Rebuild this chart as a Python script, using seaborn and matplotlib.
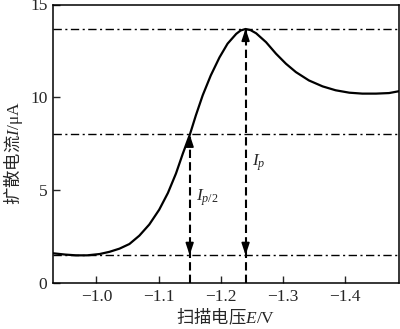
import matplotlib
matplotlib.use("Agg")
import matplotlib.pyplot as plt
import seaborn as sns
import pandas as pd

# Data
E = [-0.930, -0.950, -0.967, -0.985, -1.005, -1.021, -1.037, -1.053, -1.069,
     -1.085, -1.101, -1.115, -1.128, -1.139, -1.150, -1.160, -1.171, -1.184,
     -1.198, -1.211, -1.225, -1.232, -1.240, -1.248, -1.257, -1.273, -1.289,
     -1.305, -1.321, -1.342, -1.364, -1.385, -1.407, -1.428, -1.450, -1.471,
     -1.487]
I = [1.60, 1.53, 1.49, 1.49, 1.56, 1.68, 1.85, 2.10, 2.55,
     3.15, 3.95, 4.85, 5.90, 6.97, 7.96, 9.03, 10.11, 11.18,
     12.15, 12.89, 13.42, 13.60, 13.68, 13.62, 13.45, 12.97, 12.35,
     11.81, 11.36, 10.91, 10.59, 10.38, 10.25, 10.20, 10.20, 10.23,
     10.33]
ref_levels = [13.7, 8.0, 1.5]          # Ip, Ip/2, baseline
E_peak = -1.24
E_half = -1.15
xticks = [-1.0, -1.1, -1.2, -1.3, -1.4]
yticks = [0, 5, 10, 15]

df = pd.DataFrame({"E": E, "I": I})

sns.set_style("ticks")
plt.rcParams["font.family"] = ["Liberation Serif", "DejaVu Serif"]
plt.rcParams["mathtext.fontset"] = "custom"
plt.rcParams["mathtext.rm"] = "Liberation Serif"
plt.rcParams["mathtext.it"] = "Liberation Serif:italic"

fig = plt.figure(figsize=(4.0, 3.29), dpi=100)
ax = fig.add_axes([53/400, 46/329, 346/400, 278.5/329])

sns.lineplot(data=df, x="E", y="I", ax=ax, color="black", linewidth=1.6,
             sort=False, estimator=None)

for lv in ref_levels:
    ax.axhline(lv, color="black", linewidth=1.0, dashes=(6, 2.5, 1.5, 2.5), zorder=1)

# vertical dashed lines with arrowheads
for xv, top in [(E_half, ref_levels[1]), (E_peak, ref_levels[0])]:
    ax.plot([xv, xv], [0, top], color="black", linewidth=1.5,
            linestyle=(0, (4, 2)), zorder=2)
    ax.annotate("", xy=(xv, top), xytext=(0, -8), textcoords="offset points",
                arrowprops=dict(arrowstyle="-|>,head_length=0.6,head_width=0.2",
                                mutation_scale=12, color="black", lw=1.2,
                                shrinkA=0, shrinkB=0))
    ax.annotate("", xy=(xv, ref_levels[2]), xytext=(0, 8), textcoords="offset points",
                arrowprops=dict(arrowstyle="-|>,head_length=0.6,head_width=0.2",
                                mutation_scale=12, color="black", lw=1.2,
                                shrinkA=0, shrinkB=0))

ax.text(-1.251, 6.5, r"$I_p$", fontsize=12.5, ha="left", va="center")
ax.text(-1.161, 4.6, r"$I_{p/2}$", fontsize=12.5, ha="left", va="center")

ax.set_xlim(-0.93, -1.487)
ax.set_ylim(0, 15)
ax.set_xticks(xticks)
ax.set_yticks(yticks)
ax.tick_params(direction="in", length=5, width=1.0, labelsize=12.5, pad=4,
               top=False, right=False)
for s in ax.spines.values():
    s.set_linewidth(1.1)
    s.set_color("black")

ax.set_xlabel(r"扫描电压$E/\mathrm{V}$", fontsize=12.5, fontfamily="Noto Sans CJK SC")
ax.set_ylabel(r"扩散电流$I/\mathrm{\mu A}$", fontsize=12.5, fontfamily="Noto Sans CJK SC")
ax.xaxis.set_label_coords(0.5, -0.085)
ax.yaxis.set_label_coords(-0.08, 0.465)

fig.savefig("out.png", dpi=100)
